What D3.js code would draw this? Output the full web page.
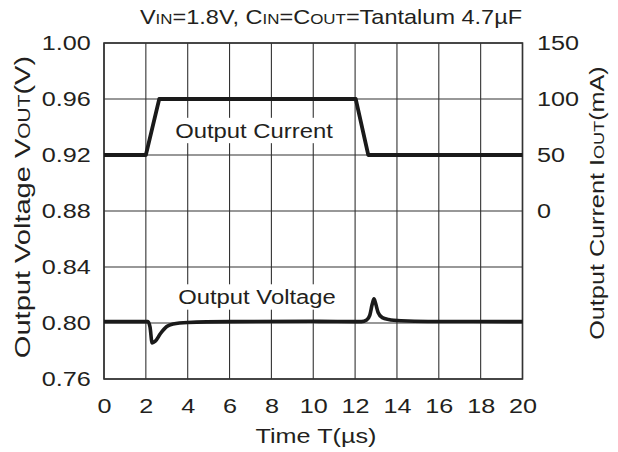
<!DOCTYPE html>
<html>
<head>
<meta charset="utf-8">
<script src="https://cdn.jsdelivr.net/npm/d3@7"></script>
<style>
  body { margin: 0; background: #fff; }
  text { font-family: "Liberation Sans", Arial, sans-serif; fill: #231f20; }
</style>
</head>
<body>
<svg id="chart" width="618" height="452"></svg>
<script>
// data
var timeTicks = [0, 2, 4, 6, 8, 10, 12, 14, 16, 18, 20];
var voltTicks = [0.76, 0.80, 0.84, 0.88, 0.92, 0.96, 1.00];
var currTicks = [0, 50, 100, 150];

// output current (mA) vs time (us)
var currT = [0, 2.0, 2.64, 12.03, 12.63, 20];
var currI = [50, 50, 100, 100, 50, 50];

// output voltage (V) vs time (us)
var voltT = [0, 2.1, 2.2, 2.3, 2.45, 2.7, 3.0, 3.3, 4, 6, 10, 12.3, 12.55, 12.7, 12.82, 12.9, 12.98, 13.1, 13.3, 13.6, 14.2, 15.5, 20];
var voltV = [0.801, 0.801, 0.797, 0.7858, 0.787, 0.7925, 0.7975, 0.7993, 0.8004, 0.801, 0.8012, 0.801, 0.8022, 0.8055, 0.8135, 0.8172, 0.814, 0.8075, 0.8038, 0.8025, 0.8016, 0.8011, 0.801];

var FS = 21;        // font size
var SX = 1.2;       // the source font is set wide

var margin = {top: 43, right: 95.5, bottom: 73, left: 104};
var width = 618 - margin.left - margin.right,
    height = 452 - margin.top - margin.bottom;

var root = d3.select("#chart");
var svg = root.append("g")
  .attr("transform", "translate(" + margin.left + "," + margin.top + ")");

var x = d3.scaleLinear().domain([0, 20]).range([0, width]);
var yV = d3.scaleLinear().domain([0.76, 1.00]).range([height, 0]);
var yI = d3.scaleLinear().domain([-150, 150]).range([height, 0]);

// grid
svg.selectAll(".vgrid")
  .data(timeTicks)
  .enter().append("line")
  .attr("x1", function(d) { return x(d); })
  .attr("x2", function(d) { return x(d); })
  .attr("y1", 0).attr("y2", height)
  .style("stroke", "#333").style("stroke-width", 1.1);

svg.selectAll(".hgrid")
  .data(voltTicks)
  .enter().append("line")
  .attr("y1", function(d) { return yV(d); })
  .attr("y2", function(d) { return yV(d); })
  .attr("x1", 0).attr("x2", width)
  .style("stroke", "#333").style("stroke-width", 1.1);

svg.append("rect")
  .attr("width", width).attr("height", height)
  .style("fill", "none").style("stroke", "#333").style("stroke-width", 1.6);

// axes with the library, lines hidden
var axL = svg.append("g")
  .call(d3.axisLeft(yV).tickValues(voltTicks).tickFormat(d3.format(".2f")).tickSize(0).tickPadding(11));
var axR = svg.append("g")
  .attr("transform", "translate(" + width + ",0)")
  .call(d3.axisRight(yI).tickValues(currTicks).tickSize(0).tickPadding(12));
var axB = svg.append("g")
  .attr("transform", "translate(0," + height + ")")
  .call(d3.axisBottom(x).tickValues(timeTicks).tickSize(0).tickPadding(19));

[axL, axR, axB].forEach(function(a) {
  a.select(".domain").remove();
  a.selectAll("text")
    .attr("transform", "scale(" + SX + ",1)")
    .style("font-size", FS + "px")
    .style("font-family", "Liberation Sans, Arial, sans-serif")
    .style("fill", "#231f20");
});

// lines
var currData = currT.map(function(t, i) { return {t: t, v: currI[i]}; });
var voltData = voltT.map(function(t, i) { return {t: t, v: voltV[i]}; });

// labels inside the plot, on white boxes
function label(txt, cx, cy, sx) {
  var g = svg.append("g").attr("transform", "translate(" + cx + "," + cy + ") scale(" + sx + ",1)");
  var bg = g.append("rect").style("fill", "#fff");
  var t = g.append("text")
    .attr("text-anchor", "middle")
    .style("font-size", FS + "px")
    .text(txt);
  var b = t.node().getBBox();
  bg.attr("x", b.x - 3).attr("y", b.y - 1).attr("width", b.width + 6).attr("height", b.height + 2);
}
label("Output Current", 150, 94.5, 1.135);
label("Output Voltage", 153, 261, 1.135);

svg.append("path")
  .datum(currData)
  .attr("d", d3.line().x(function(d) { return x(d.t); }).y(function(d) { return yI(d.v); }))
  .style("fill", "none").style("stroke", "#1a1a1a").style("stroke-width", 3.8)
  .style("stroke-linejoin", "round");

svg.append("path")
  .datum(voltData)
  .attr("d", d3.line().curve(d3.curveMonotoneX).x(function(d) { return x(d.t); }).y(function(d) { return yV(d.v); }))
  .style("fill", "none").style("stroke", "#1a1a1a").style("stroke-width", 3.6)
  .style("stroke-linejoin", "round");

// text made of normal and small-caps parts
function rich(tf, sx, fs, parts) {
  var t = root.append("text")
    .attr("transform", tf + " scale(" + sx + ",1)")
    .attr("text-anchor", "middle")
    .style("font-size", fs + "px");
  parts.forEach(function(p) {
    t.append("tspan").style("font-size", (p[1] ? fs * 0.72 : fs) + "px").text(p[0]);
  });
}

rich("translate(331,24)", 1.12, FS, [["V"], ["IN", 1], ["=1.8V, C"], ["IN", 1], ["=C"], ["OUT", 1], ["=Tantalum 4.7\u00b5F"]]);
rich("translate(316,443)", SX, FS, [["Time T(\u00b5s)"]]);
rich("translate(30,207) rotate(-90)", 1.32, 22, [["Output Voltage V"], ["OUT", 1], ["(V)"]]);
rich("translate(604,203) rotate(-90)", SX, FS, [["Output Current I"], ["OUT", 1], ["(mA)"]]);
</script>
</body>
</html>
